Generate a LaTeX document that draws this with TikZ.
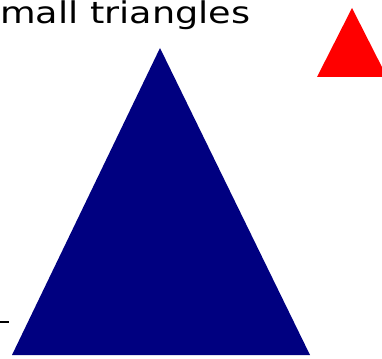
\documentclass[tikz,border=0pt]{standalone}
\usepackage{fontspec}
\setmainfont{DejaVu Sans}
\usepackage{xcolor}
\definecolor{deepNavy}{HTML}{000080}
\definecolor{brightRed}{HTML}{FF0000}
\usepackage{tikz}
\usetikzlibrary{positioning}
\tikzset{
    % Large navy triangle
    big triangle/.style={fill=deepNavy, draw=none},
    % Small red triangle, top right
    small triangle/.style={fill=brightRed, draw=none},
    % Heading text at the top edge
    caption text/.style={font=\fontsize{30}{36}\selectfont, anchor=base west, inner sep=0pt, xscale=1.22},
    % Short black dash
    tick mark/.style={line width=2pt, draw=black},
}
\begin{document}
\begin{tikzpicture}[x=1pt, y=-1pt]
    \useasboundingbox (0,0) rectangle (382,358);
    \node (title) [caption text] at (0,24) {mall triangles};
    \fill [big triangle] (12,355) -- (160,48) -- (310,355) -- cycle;
    \fill [small triangle] (317,77) -- (352,8) -- (387,77) -- cycle;
    \coordinate (dashL) at (0,322);
    \coordinate (dashR) at (9,322);
    \draw [tick mark] (dashL) -- (dashR);
\end{tikzpicture}
\end{document}
